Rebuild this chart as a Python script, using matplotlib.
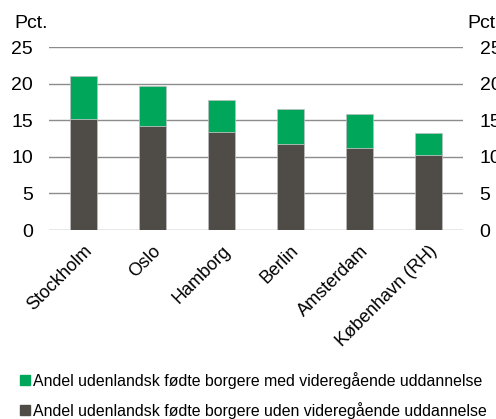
import matplotlib.pyplot as plt
from matplotlib.patches import Patch

plt.rcParams['font.family'] = ['Liberation Sans', 'DejaVu Sans']

cities = ["Stockholm", "Oslo", "Hamborg", "Berlin", "Amsterdam", "København (RH)"]
uden = [15.2, 14.2, 13.4, 11.8, 11.2, 10.2]
med = [5.8, 5.5, 4.4, 4.7, 4.7, 3.1]
lbl_med = "Andel udenlandsk fødte borgere med videregående uddannelse"
lbl_uden = "Andel udenlandsk fødte borgere uden videregående uddannelse"

green = "#00a65a"
dark = "#4f4b47"

fig = plt.figure(figsize=(4.96, 4.19), dpi=100)
ax = fig.add_axes([49/496, 189/419, 414/496, 183/419])

x = range(len(cities))
ax.bar(x, uden, width=0.4, color=dark, edgecolor="#bfbfbf", linewidth=0.5, zorder=3)
ax.bar(x, med, width=0.4, bottom=uden, color=green, edgecolor="#bfbfbf", linewidth=0.5, zorder=3)

ax.set_xlim(-0.5, len(cities) - 0.5)
ax.set_ylim(0, 25)
ax.set_yticks([0, 5, 10, 15, 20, 25])
ax.grid(axis='y', color='#8c8c8c', linewidth=1, zorder=0)
for s in ax.spines.values():
    s.set_visible(False)
ax.tick_params(axis='y', length=0, pad=11.5, labelsize=14)
ax.tick_params(axis='x', length=0, pad=9, labelsize=13)
ax.set_xticks(list(x))
ax.set_xticklabels(cities, rotation=45, ha='right', rotation_mode='anchor')

ax2 = ax.twinx()
ax2.set_ylim(0, 25)
ax2.set_yticks([0, 5, 10, 15, 20, 25])
for s in ax2.spines.values():
    s.set_visible(False)
ax2.tick_params(axis='y', length=0, pad=12, labelsize=14)

fig.text(14/496, 1 - 23/419, "Pct.", fontsize=14, va='center', ha='left')
fig.text(467/496, 1 - 23/419, "Pct.", fontsize=14, va='center', ha='left')

handles = [Patch(color=green, label=lbl_med), Patch(color=dark, label=lbl_uden)]
fig.legend(handles=handles, loc='upper left', bbox_to_anchor=(20/496, 1 - 372/419),
           frameon=False, fontsize=11.4, handlelength=0.6, handleheight=0.6,
           handletextpad=0.25, labelspacing=0.8, borderaxespad=0, borderpad=0)

plt.savefig("out.png", dpi=100)
